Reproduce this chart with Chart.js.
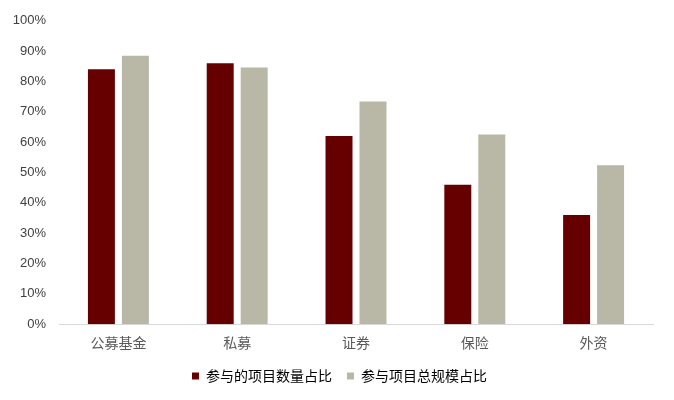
<!DOCTYPE html>
<html>
<head>
<meta charset="utf-8">
<script src="https://cdn.jsdelivr.net/npm/chart.js@4/dist/chart.umd.min.js"></script>
<style>
  html, body { margin: 0; padding: 0; background: #fff; }
  #wrap { width: 674px; height: 400px; }
</style>
</head>
<body>
<div id="wrap"><canvas id="myChart" width="674" height="400"></canvas></div>
<script>
var categories = ['公募基金', '私募', '证券', '保险', '外资'];
var countShare = [84, 86, 62, 46, 36];   // 参与的项目数量占比
var sizeShare = [88.5, 84.6, 73.4, 62.5, 52.4]; // 参与项目总规模占比
var seriesNames = ['参与的项目数量占比', '参与项目总规模占比'];

var cjk = '"Noto Sans CJK SC", "Microsoft YaHei", sans-serif';

// nudge the legend so it is centred on the canvas, not on the padded box
var legendShift = {
  id: 'legendShift',
  afterLayout: function(chart) {
    chart.legend.left += 13;
    chart.legend.right += 13;
  }
};

var ctx = document.getElementById('myChart').getContext('2d');
var myChart = new Chart(ctx, {
  type: 'bar',
  data: {
    labels: categories,
    datasets: [{
      label: seriesNames[0],
      backgroundColor: '#660000',
      data: countShare
    }, {
      label: seriesNames[1],
      backgroundColor: '#b9b8a6',
      data: sizeShare
    }]
  },
  plugins: [legendShift],
  options: {
    responsive: false,
    animation: false,
    categoryPercentage: 0.572,
    barPercentage: 0.794,
    layout: {
      padding: { top: 12, right: 21, left: 0, bottom: 7 }
    },
    plugins: {
      tooltip: { enabled: false },
      legend: {
        position: 'bottom',
        labels: {
          boxWidth: 7,
          boxHeight: 7,
          padding: 15,
          color: '#000',
          font: { family: cjk, size: 14 }
        }
      }
    },
    scales: {
      x: {
        afterFit: function(s) { s.height -= 7; },
        grid: { display: false, drawTicks: false },
        border: { display: true, color: '#d9d9d9', width: 1 },
        ticks: {
          color: '#595959',
          padding: 10,
          font: { family: cjk, size: 14 }
        }
      },
      y: {
        min: 0,
        max: 100,
        afterFit: function(s) { s.width = 59; },
        grid: { display: false, drawTicks: false },
        border: { display: false },
        ticks: {
          stepSize: 10,
          padding: 13,
          color: '#404040',
          font: { family: '"Liberation Sans", Arial, sans-serif', size: 13 },
          callback: function(v) { return v + '%'; }
        }
      }
    }
  }
});
</script>
</body>
</html>
